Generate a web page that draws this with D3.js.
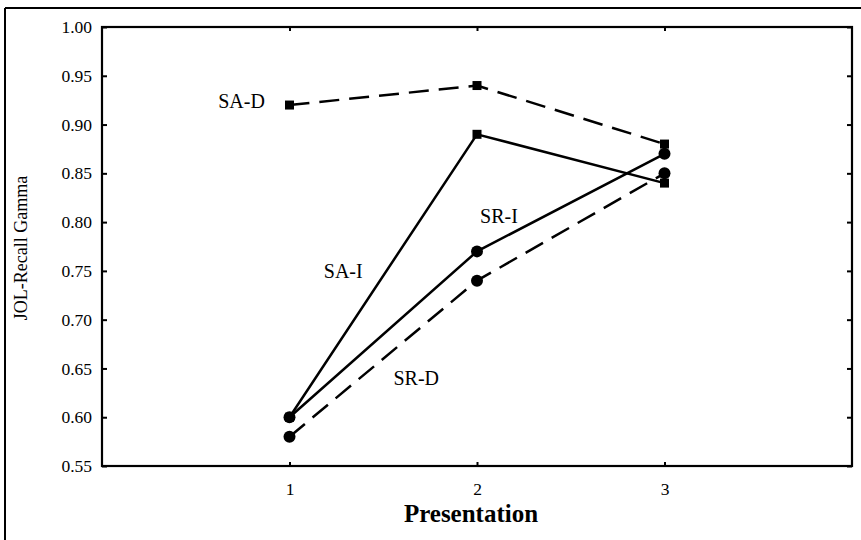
<!DOCTYPE html>
<html>
<head>
<meta charset="utf-8">
<script src="https://cdn.jsdelivr.net/npm/d3@7"></script>
<style>
  html, body { margin: 0; padding: 0; background: #fff; }
  svg { display: block; }
  text { font-family: "Liberation Serif", "Times New Roman", serif; fill: #000; }
</style>
</head>
<body>
<svg id="chart" width="861" height="540"></svg>
<script>
// Presentation number on the x axis
const presentations = [1, 2, 3];
// Gamma correlation for each condition across presentations
const saD = [0.92, 0.94, 0.88];
const saI = [0.60, 0.89, 0.84];
const srI = [0.60, 0.77, 0.87];
const srD = [0.58, 0.74, 0.85];
const yTicks = [0.55, 0.60, 0.65, 0.70, 0.75, 0.80, 0.85, 0.90, 0.95, 1.00];
const seriesNames = ["SA-D", "SA-I", "SR-I", "SR-D"];

const svg = d3.select("#chart");
const W = 861, H = 540;
const plot = { left: 102, right: 852, top: 27, bottom: 466 };

const x = d3.scaleLinear().domain([0, 4]).range([plot.left, plot.right]);
const y = d3.scaleLinear().domain([0.55, 1.00]).range([plot.bottom, plot.top]);

// outer figure frame (top and left edges)
svg.append("line").attr("x1", 5).attr("x2", W).attr("y1", 8).attr("y2", 8)
  .attr("stroke", "#000").attr("stroke-width", 2);
svg.append("line").attr("x1", 5).attr("x2", 5).attr("y1", 8).attr("y2", H)
  .attr("stroke", "#000").attr("stroke-width", 2);

// axes: ticks point inward on all four sides
const fmt = d3.format(".2f");
const axisL = svg.append("g").attr("transform", `translate(${plot.left},0)`)
  .call(d3.axisLeft(y).tickValues(yTicks).tickFormat(fmt).tickSizeInner(-5).tickSizeOuter(0).tickPadding(10));
const axisR = svg.append("g").attr("transform", `translate(${plot.right},0)`)
  .call(d3.axisRight(y).tickValues(yTicks).tickFormat("").tickSizeInner(-5).tickSizeOuter(0));
const axisB = svg.append("g").attr("transform", `translate(0,${plot.bottom})`)
  .call(d3.axisBottom(x).tickValues(presentations).tickFormat(d3.format("d")).tickSizeInner(-4).tickSizeOuter(0).tickPadding(17));
const axisT = svg.append("g").attr("transform", `translate(0,${plot.top})`)
  .call(d3.axisTop(x).tickValues(presentations).tickFormat("").tickSizeInner(-4).tickSizeOuter(0));

[axisL, axisR, axisB, axisT].forEach(g => {
  g.select(".domain").remove();
  g.selectAll(".tick line").attr("stroke", "#000").attr("stroke-width", 2);
  g.selectAll(".tick text").style("font-family", '"Liberation Serif", serif')
    .style("font-size", "17.5px").attr("fill", "#000");
});

// plot frame
svg.append("rect")
  .attr("x", plot.left).attr("y", plot.top)
  .attr("width", plot.right - plot.left).attr("height", plot.bottom - plot.top)
  .attr("fill", "none").attr("stroke", "#000").attr("stroke-width", 2.2);

// series
const series = [
  { name: "SA-D", values: saD, dash: "20,10", marker: "square" },
  { name: "SA-I", values: saI, dash: null, marker: "square" },
  { name: "SR-I", values: srI, dash: null, marker: "circle" },
  { name: "SR-D", values: srD, dash: "20,10", marker: "circle" }
];

const line = d3.line().x((d, i) => x(presentations[i])).y(d => y(d));

series.forEach(s => {
  svg.append("path")
    .datum(s.values)
    .attr("d", line)
    .attr("fill", "none")
    .attr("stroke", "#000")
    .attr("stroke-width", 2.5)
    .attr("stroke-dasharray", s.dash);
});

// square markers first, circles drawn on top
series.filter(s => s.marker === "square").forEach(s => {
  svg.selectAll(null).data(s.values).enter().append("rect")
    .attr("x", (d, i) => x(presentations[i]) - 4.5)
    .attr("y", d => y(d) - 4.5)
    .attr("width", 9).attr("height", 9)
    .attr("fill", "#000");
});
series.filter(s => s.marker === "circle").forEach(s => {
  svg.selectAll(null).data(s.values).enter().append("circle")
    .attr("cx", (d, i) => x(presentations[i]))
    .attr("cy", d => y(d))
    .attr("r", 6)
    .attr("fill", "#000");
});

// series labels placed near their lines
const labelPos = {
  "SA-D": { px: 1, v: 0.92, dx: -48, dy: 3 },
  "SA-I": { px: 1.5, v: 0.745, dx: -40, dy: 2 },
  "SR-I": { px: 2, v: 0.80, dx: 22, dy: 1 },
  "SR-D": { px: 1.5, v: 0.64, dx: 33, dy: 7 }
};
seriesNames.forEach(n => {
  const p = labelPos[n];
  svg.append("text")
    .attr("x", x(p.px) + p.dx)
    .attr("y", y(p.v) + p.dy)
    .attr("text-anchor", "middle")
    .style("font-size", "20px")
    .text(n);
});

// axis titles
svg.append("text")
  .attr("transform", `translate(27,248) rotate(-90)`)
  .attr("text-anchor", "middle")
  .style("font-size", "18px")
  .text("JOL-Recall Gamma");

svg.append("text")
  .attr("x", x(2) - 6)
  .attr("y", 522)
  .attr("text-anchor", "middle")
  .style("font-size", "25px")
  .style("font-weight", "bold")
  .text("Presentation");
</script>
</body>
</html>
